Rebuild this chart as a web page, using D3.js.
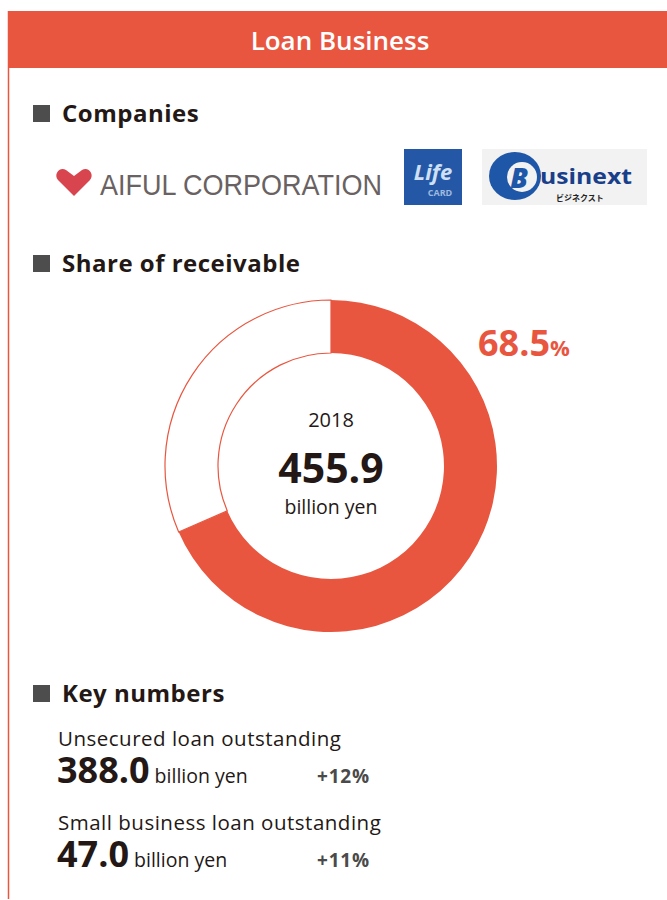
<!DOCTYPE html>
<html><head><meta charset="utf-8">
<script src="https://cdn.jsdelivr.net/npm/d3@7"></script>
<style>body{margin:0;background:#fff}svg{display:block}</style>
</head><body>
<script>
const title = "Loan Business";
const sections = ["Companies", "Share of receivable", "Key numbers"];
const companies = ["AIFUL CORPORATION", "Life CARD", "Businext"];
const shareLabels = ["Loan Business", "Other"];
const shareValues = [68.5, 31.5];
const year = "2018";
const totalValue = "455.9";
const unit = "billion yen";
const keyLabels = ["Unsecured loan outstanding", "Small business loan outstanding"];
const keyValues = ["388.0", "47.0"];
const keyGrowth = ["+12%", "+11%"];

const RED = "#e9563f", DARK = "#231815", GRAY = "#4a4a4a";
const FONT = "'Open Sans', 'Noto Sans', sans-serif";
const W = 667, H = 900;
const svg = d3.select("body").append("svg").attr("width", W).attr("height", H)
  .style("font-family", FONT);

// frame
svg.append("line").attr("x1", 8.5).attr("x2", 8.5).attr("y1", 11).attr("y2", 899)
  .attr("stroke", RED).attr("stroke-width", 1.5);
svg.append("rect").attr("x", 8).attr("y", 11).attr("width", W - 8).attr("height", 57).attr("fill", RED);
svg.append("text").attr("x", 340).attr("y", 50).attr("text-anchor", "middle")
  .attr("fill", "#fff").attr("font-size", 26).attr("font-weight", 600).text(title);

// section headings
const headY = [122, 272, 702];
sections.forEach((s, i) => {
  svg.append("rect").attr("x", 33).attr("y", headY[i] - 17).attr("width", 17).attr("height", 17).attr("fill", "#4d4d4d");
  svg.append("text").attr("x", 62).attr("y", headY[i]).attr("font-size", 24).attr("font-weight", 700)
    .attr("letter-spacing", 0.5).attr("fill", DARK).text(s);
});

// logos
const lg = svg.append("g");
const heart = d3.path();
heart.moveTo(74, 196); heart.lineTo(58, 180);
heart.bezierCurveTo(53, 174, 60, 166, 66, 170);
heart.lineTo(74, 176); heart.lineTo(82, 170);
heart.bezierCurveTo(88, 166, 95, 174, 90, 180);
heart.closePath();
lg.append("path").attr("d", heart.toString()).attr("fill", "#d9454f");
lg.append("text").attr("x", 100).attr("y", 195).attr("font-size", 30).attr("fill", "#6a6262")
  .attr("font-family", "'Liberation Sans Narrow', 'Liberation Sans', Arial, sans-serif").attr("textLength", 282)
  .attr("lengthAdjust", "spacingAndGlyphs").text(companies[0]);
// Life card
lg.append("rect").attr("x", 404).attr("y", 149).attr("width", 58).attr("height", 56).attr("fill", "#2458a6");
lg.append("text").attr("x", 433).attr("y", 180).attr("text-anchor", "middle").attr("font-size", 22)
  .attr("font-style", "italic").attr("font-weight", 700).attr("fill", "#cfe0f5").text("Life");
lg.append("text").attr("x", 440).attr("y", 196).attr("text-anchor", "middle").attr("font-size", 9)
  .attr("font-weight", 700).attr("fill", "#9fb8de").text("CARD");
// Businext
lg.append("rect").attr("x", 482).attr("y", 149).attr("width", 165).attr("height", 56).attr("fill", "#f2f2f2");
lg.append("ellipse").attr("cx", 515).attr("cy", 176).attr("rx", 26).attr("ry", 24).attr("fill", "#1f57a8");
lg.append("ellipse").attr("cx", 522).attr("cy", 177).attr("rx", 15).attr("ry", 15).attr("fill", "#f2f2f2");
lg.append("text").attr("x", 519).attr("y", 188).attr("text-anchor", "middle").attr("font-size", 28)
  .attr("font-weight", 800).attr("font-style", "italic").attr("fill", "#1f57a8").text("B");
lg.append("text").attr("x", 540).attr("y", 184).attr("font-size", 22).attr("font-weight", 700)
  .attr("fill", "#1a3f8a").attr("textLength", 92).attr("lengthAdjust", "spacingAndGlyphs").text(companies[2].slice(1));
lg.append("text").attr("x", 580).attr("y", 201).attr("text-anchor", "middle").attr("font-size", 8)
  .attr("font-weight", 700).attr("font-family", "'Noto Sans CJK JP', sans-serif").attr("fill", "#222").text("ビジネクスト");

// donut
const cx = 331, cy = 466, rOut = 166, rIn = 113;
const pie = d3.pie().sort(null).value(d => d)(shareValues);
const arc = d3.arc().innerRadius(rIn).outerRadius(rOut);
const dg = svg.append("g").attr("transform", `translate(${cx},${cy})`);
dg.selectAll("path").data(pie).join("path")
  .attr("d", arc)
  .attr("fill", (d, i) => i === 0 ? RED : "#fff")
  .attr("stroke", RED).attr("stroke-width", (d, i) => i === 0 ? 0 : 1.2);

dg.append("text").attr("y", -39).attr("text-anchor", "middle").attr("font-size", 20).attr("fill", DARK).text(year);
dg.append("text").attr("y", 17).attr("text-anchor", "middle").attr("font-size", 41).attr("font-weight", 700)
  .attr("fill", DARK).text(totalValue);
dg.append("text").attr("y", 48).attr("text-anchor", "middle").attr("font-size", 19.5).attr("fill", DARK).text(unit);

const pct = svg.append("text").attr("x", 478).attr("y", 356).attr("fill", RED).attr("font-weight", 700);
pct.append("tspan").attr("font-size", 36).text(d3.format(".1f")(shareValues[0]));
pct.append("tspan").attr("font-size", 22).text("%");

// key numbers
const kBase = [746, 830];
keyLabels.forEach((l, i) => {
  const y = kBase[i];
  svg.append("text").attr("x", 58).attr("y", y).attr("font-size", 20.5).attr("letter-spacing", 0.5).attr("fill", DARK).text(l);
  const t = svg.append("text").attr("x", 57).attr("y", y + 37).attr("fill", DARK);
  t.append("tspan").attr("font-size", 36).attr("font-weight", 700).text(keyValues[i]);
  t.append("tspan").attr("font-size", 19.5).attr("dx", 5).text(unit);
  svg.append("text").attr("x", 317).attr("y", y + 37).attr("font-size", 19).attr("font-weight", 700)
    .attr("letter-spacing", 0.8).attr("fill", GRAY).text(keyGrowth[i]);
});
</script>
</body></html>
